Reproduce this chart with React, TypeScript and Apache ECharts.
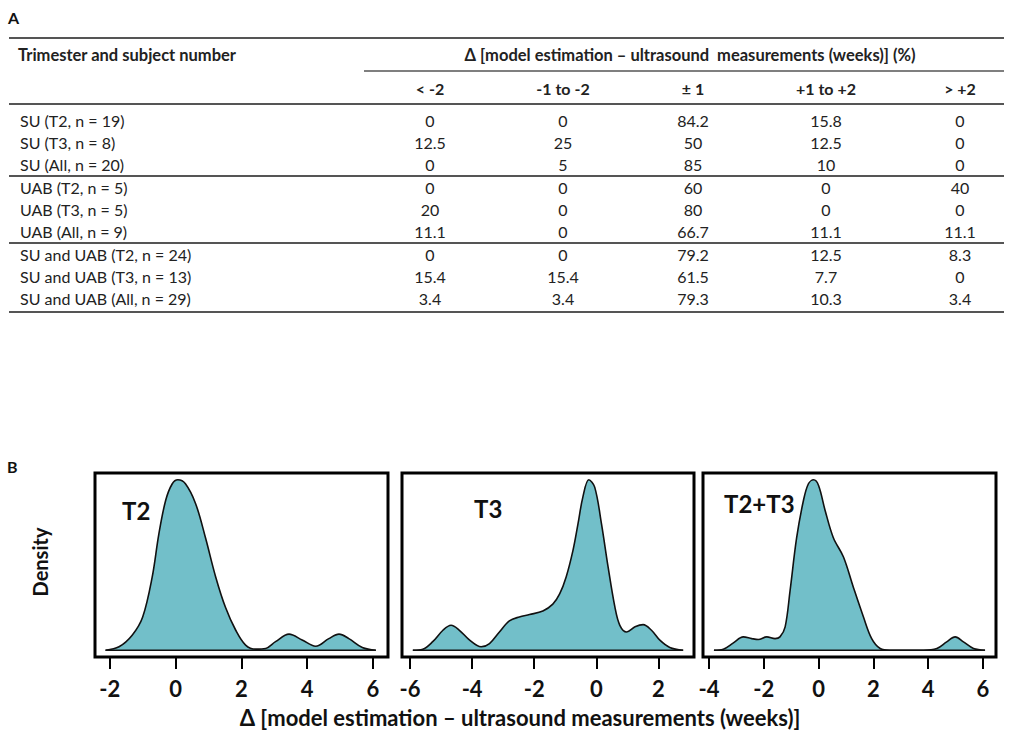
import React, { useEffect, useRef } from "react";
import * as echarts from "echarts";

// ---------- Table A data ----------
const rowLabels = [
  "SU (T2, n = 19)",
  "SU (T3, n = 8)",
  "SU (All, n = 20)",
  "UAB (T2, n = 5)",
  "UAB (T3, n = 5)",
  "UAB (All, n = 9)",
  "SU and UAB (T2, n = 24)",
  "SU and UAB (T3, n = 13)",
  "SU and UAB (All, n = 29)",
];
const colLabels = ["< -2", "-1 to -2", "\u00b1 1", "+1 to +2", "> +2"];
const pctBelowMinus2 = ["0", "12.5", "0", "0", "20", "11.1", "0", "15.4", "3.4"];
const pctMinus1to2 = ["0", "25", "5", "0", "0", "0", "0", "15.4", "3.4"];
const pctWithin1 = ["84.2", "50", "85", "60", "80", "66.7", "79.2", "61.5", "79.3"];
const pctPlus1to2 = ["15.8", "12.5", "10", "0", "0", "11.1", "12.5", "7.7", "10.3"];
const pctAbovePlus2 = ["0", "0", "0", "40", "0", "11.1", "8.3", "0", "3.4"];
const tableColumns = [pctBelowMinus2, pctMinus1to2, pctWithin1, pctPlus1to2, pctAbovePlus2];
const headerFirst = "Trimester and subject number";
const headerDelta = "\u0394 [model estimation \u2013 ultrasound  measurements (weeks)] (%)";

// ---------- Panel B data (x in weeks, relative density) ----------
const panelNames = ["T2", "T3", "T2+T3"];
const t2Curve = [
  [-2.13, 0], [-1.72, 0.02], [-1.32, 0.088], [-1.0, 0.195], [-0.71, 0.43], [-0.51, 0.68],
  [-0.3, 0.88], [-0.1, 0.977], [0.07, 1.0], [0.3, 0.977], [0.61, 0.86], [0.91, 0.66],
  [1.22, 0.43], [1.52, 0.25], [1.83, 0.117], [2.13, 0.03], [2.44, 0.006], [2.74, 0.01],
  [3.04, 0.05], [3.45, 0.094], [3.85, 0.06], [4.26, 0.023], [4.66, 0.068], [4.97, 0.094],
  [5.27, 0.068], [5.68, 0.016], [6.09, 0],
];
const t3Curve = [
  [-5.91, 0], [-5.59, 0.006], [-5.27, 0.05], [-4.94, 0.117], [-4.68, 0.146], [-4.41, 0.117],
  [-4.08, 0.059], [-3.71, 0.02], [-3.44, 0.039], [-3.12, 0.107], [-2.8, 0.172], [-2.48, 0.195],
  [-2.15, 0.209], [-1.72, 0.23], [-1.4, 0.27], [-1.18, 0.33], [-0.97, 0.43], [-0.75, 0.586],
  [-0.59, 0.74], [-0.43, 0.9], [-0.24, 1.0], [-0.05, 0.957], [0.17, 0.74], [0.38, 0.49],
  [0.6, 0.254], [0.76, 0.146], [0.98, 0.107], [1.25, 0.137], [1.51, 0.15], [1.78, 0.117],
  [2.05, 0.059], [2.37, 0.016], [2.8, 0],
];
const t2t3Curve = [
  [-3.82, 0], [-3.48, 0.006], [-3.11, 0.043], [-2.75, 0.078], [-2.44, 0.068], [-2.2, 0.0625],
  [-1.89, 0.078], [-1.59, 0.068], [-1.41, 0.078], [-1.22, 0.137], [-1.04, 0.35], [-0.8, 0.66],
  [-0.55, 0.88], [-0.37, 0.977], [-0.18, 1.0], [0.0, 0.967], [0.24, 0.82], [0.54, 0.66],
  [0.91, 0.547], [1.27, 0.37], [1.64, 0.195], [1.94, 0.068], [2.25, 0.01], [2.61, 0],
  [3.22, 0], [3.83, 0], [4.32, 0.01], [4.68, 0.049], [4.99, 0.078], [5.29, 0.049],
  [5.66, 0.01], [6.08, 0],
];
const curves = [t2Curve, t3Curve, t2t3Curve];
const xRanges = [[-2.45, 6.46], [-6.26, 3.15], [-4.22, 6.48]];
const xTicks = [[-2, 0, 2, 4, 6], [-6, -4, -2, 0, 2], [-4, -2, 0, 2, 4, 6]];
const xAxisTitle = "\u0394 [model estimation \u2013 ultrasound measurements (weeks)]";
const yAxisTitle = "Density";

const FONT = "Lato, 'Open Sans', sans-serif";
const FILL = "#72BFC9";

export default function App() {
  const ref = useRef<HTMLDivElement>(null);
  useEffect(() => {
    const chart = echarts.init(ref.current!, null, { renderer: "svg" });

    const graphics: any[] = [];
    const txt = (text: string, x: number, y: number, size: number, weight: string, align = "left", color = "#222", extra: any = {}) =>
      graphics.push({
        type: "text",
        x,
        y,
        ...extra,
        style: { text, fontSize: size, fontWeight: weight, fontFamily: FONT, fill: color, align, verticalAlign: "middle" },
      });
    const hline = (x1: number, x2: number, y: number, w: number, color = "#555") =>
      graphics.push({ type: "line", shape: { x1, y1: y, x2, y2: y }, style: { stroke: color, lineWidth: w } });

    // Table A
    txt("A", 8, 17, 16, "bold", "left", "#111");
    hline(9, 1004, 38, 2.2);
    txt(headerFirst, 18, 55, 16.5, "bold");
    txt(headerDelta, 690, 55, 16.5, "bold", "center");
    hline(364, 1004, 71, 1.6);
    const colX = [430, 563, 693, 826, 960];
    colLabels.forEach((c, i) => txt(c, colX[i], 88, 16, "bold", "center"));
    hline(9, 1004, 104, 2.2);
    const groupStarts = [120, 187, 254.5];
    rowLabels.forEach((label, r) => {
      const y = groupStarts[Math.floor(r / 3)] + (r % 3) * 22.2;
      txt(label, 20, y, 16, "normal");
      tableColumns.forEach((col, c) => txt(col[r], colX[c], y, 16, "normal", "center"));
    });
    hline(9, 1004, 176, 2);
    hline(9, 1004, 243, 2);
    hline(9, 1004, 312, 2.2);

    // Panel B labels
    txt("B", 7, 466, 16, "bold", "left", "#111");
    txt(panelNames[0], 122, 510, 24, "bold", "left", "#111");
    txt(panelNames[1], 474, 508, 24, "bold", "left", "#111");
    txt(panelNames[2], 724, 503, 24, "bold", "left", "#111");
    txt(yAxisTitle, 40, 562, 20, "bold", "center", "#111", { rotation: Math.PI / 2 });
    txt(xAxisTitle, 520, 717, 22, "bold", "center", "#111");

    const gridLefts = [95, 402, 703];
    const gridWidths = [293, 292, 293];

    const option: any = {
      animation: false,
      backgroundColor: "#fff",
      grid: gridLefts.map((l, i) => ({
        left: l,
        top: 473,
        width: gridWidths[i],
        height: 184,
        show: true,
        borderColor: "#000",
        borderWidth: 3,
        backgroundColor: "transparent",
      })),
      xAxis: curves.map((_, i) => ({
        type: "value",
        gridIndex: i,
        min: xRanges[i][0],
        max: xRanges[i][1],
        splitLine: { show: false },
        axisLine: { show: false, onZero: false },
        axisTick: { show: true, customValues: xTicks[i], length: 12, lineStyle: { color: "#000", width: 2 } },
        axisLabel: {
          show: true,
          customValues: xTicks[i],
          fontSize: 22,
          fontWeight: "bold",
          fontFamily: FONT,
          color: "#111",
          margin: 20,
        },
      })),
      yAxis: curves.map((_, i) => ({
        type: "value",
        gridIndex: i,
        min: -0.04,
        max: 1.04,
        show: false,
        splitLine: { show: false },
      })),
      series: curves.flatMap((c, i) => [
        {
          type: "line",
          xAxisIndex: i,
          yAxisIndex: i,
          data: c,
          smooth: 0.35,
          showSymbol: false,
          symbol: "none",
          lineStyle: { color: "#111", width: 1.6 },
          areaStyle: { color: FILL, opacity: 1 },
          z: 2,
        },
        {
          type: "line",
          xAxisIndex: i,
          yAxisIndex: i,
          data: [[c[0][0], 0], [c[c.length - 1][0], 0]],
          showSymbol: false,
          symbol: "none",
          lineStyle: { color: "#111", width: 1.6 },
          z: 3,
        },
      ]),
      graphic: graphics,
    };
    chart.setOption(option);
    return () => chart.dispose();
  }, []);
  return (
    <div
      ref={ref}
      style={{ position: "fixed", left: 0, top: 0, width: 1013, height: 730, background: "#fff" }}
    />
  );
}
